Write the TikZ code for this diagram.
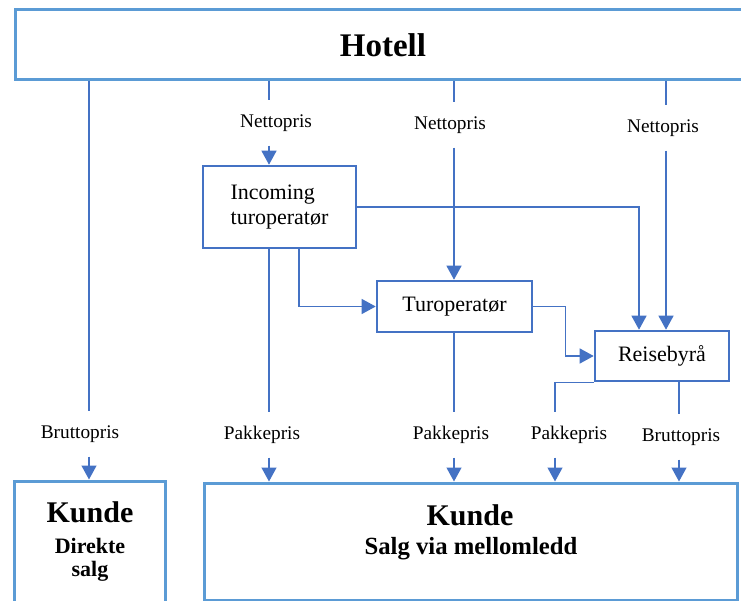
\documentclass[tikz,border=0pt]{standalone}
\usepackage{fontspec}
\setmainfont{Liberation Serif}
\usepackage{xcolor}
\usepackage{tikz}
\usetikzlibrary{arrows.meta, positioning}

\definecolor{linjeblaa}{HTML}{4472C4}
\definecolor{kantblaa}{HTML}{5B9BD5}

\tikzset{
  linje/.style={draw=linjeblaa, line width=1.3pt},
  storboks/.style={rectangle, draw=kantblaa, line width=3pt},
  aktoer/.style={rectangle, draw=linjeblaa, line width=2.6pt, align=left,
    font=\fontsize{22}{25}\selectfont},
  pris/.style={inner xsep=2pt, inner ysep=14pt, text height=13pt, text depth=4pt,
    font=\fontsize{19.3}{22}\selectfont},
  tittel/.style={anchor=base, inner sep=0pt, font=\bfseries\fontsize{30}{32}\selectfont},
  undertittel/.style={anchor=base, inner sep=0pt, font=\bfseries\fontsize{22}{25}\selectfont}
}

\begin{document}
\begin{tikzpicture}[x=1pt, y=-1pt, >={Triangle[width=15pt,length=14pt]}]

        \useasboundingbox (0,0) rectangle (741,601);

        % boxes
        \node [storboks, minimum width=736pt, minimum height=70pt,
          font=\bfseries\fontsize{33}{36}\selectfont] (hotell) at (383,45) {Hotell};
        \node [aktoer, minimum width=153pt, minimum height=82pt] (inc) at (279.5,207) {Incoming\\turoperatør};
        \node [aktoer, minimum width=155pt, minimum height=51pt] (tur) at (454.5,306.5) {Turoperatør};
        \node [aktoer, minimum width=134pt, minimum height=50pt] (reise) at (662,356) {Reisebyrå};
        \node [storboks, minimum width=151pt, minimum height=148pt] (kundeA) at (89.5,555) {};
        \node [storboks, minimum width=533pt, minimum height=117pt] (kundeB) at (470.5,541.5) {};

        \node [tittel] (kundeA-tittel) at (90,522) {Kunde};
        \node [undertittel] (kundeA-direkte) at (90,553) {Direkte};
        \node [undertittel] (kundeA-salg) at (90,576) {salg};
        \node [tittel] (kundeB-tittel) at (470,525) {Kunde};
        \node [undertittel, font=\bfseries\fontsize{24.7}{27}\selectfont] (kundeB-via) at (471,554) {Salg via mellomledd};

        % columns of the vertical connectors
        \foreach \c/\x in {a/89, b/269, c/299, d/454, e/555, f/639, g/666, h/679}
          \coordinate (col-\c) at (\x,0);

        % price labels
        \foreach \n/\x/\y in {1/276/123, 2/450/125, 3/663/128}
          \node [pris] (netto-\n) at (\x,\y) {Nettopris};

        \foreach \n/\t/\x/\y in {1/Bruttopris/80/434, 2/Pakkepris/262/435, 3/Pakkepris/451/435,
                                 4/Pakkepris/569/435, 5/Bruttopris/681/437}
          \node [pris] (pris-\n) at (\x,\y) {\t};

        % hotel to the sellers
        \foreach \n/\c/\t in {1/b/inc, 2/d/tur, 3/g/reise} {
          \draw [linje] (hotell.south -| col-\c) -- (netto-\n.north -| col-\c);
          \draw [linje, ->] (netto-\n.south -| col-\c) -- (\t.north -| col-\c);
        }

        % between the sellers
        \draw [linje, ->] (inc.east) -| (reise.north -| col-f);
        \draw [linje, ->] (inc.south -| col-c) |- (tur.west);
        \draw [linje, ->] (tur.east) -- ++(32,0) |- (reise.west);

        % to the customers
        \draw [linje] (hotell.south -| col-a) -- (pris-1.north -| col-a);
        \draw [linje, ->] (pris-1.south -| col-a) -- (kundeA.north -| col-a);

        \draw [linje] (inc.south -| col-b) -- (pris-2.north -| col-b);
        \draw [linje] (tur.south -| col-d) -- (pris-3.north -| col-d);
        \draw [linje] (reise.south west) -| (pris-4.north -| col-e);
        \draw [linje] (reise.south -| col-h) -- (pris-5.north -| col-h);

        \foreach \n/\c in {2/b, 3/d, 4/e, 5/h}
          \draw [linje, ->] (pris-\n.south -| col-\c) -- (kundeB.north -| col-\c);

\end{tikzpicture}
\end{document}
